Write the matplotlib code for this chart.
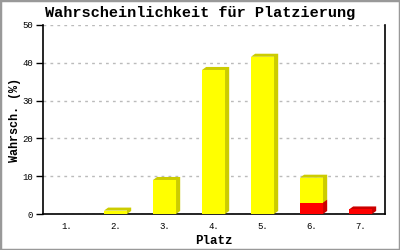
import matplotlib
matplotlib.use("Agg")
import matplotlib.pyplot as plt
from matplotlib.patches import Polygon, Rectangle

categories = ["1.", "2.", "3.", "4.", "5.", "6.", "7."]
red_values = [0, 0, 0, 0, 0, 3.0, 1.2]
yellow_values = [0, 0.9, 9.0, 38.1, 41.6, 6.6, 0]
y_ticks = [0, 10, 20, 30, 40, 50]

FONT = "Liberation Mono"
fig = plt.figure(figsize=(4, 2.5), dpi=100)
ax = fig.add_axes([43/400, 36/250, (385-43)/400, (214-25)/250])

width = 0.47
dx, dy = 0.085, 0.8

def bar3d(x, bottom, h, face, side):
    if h <= 0:
        return
    x0, x1 = x - width/2, x + width/2
    top = bottom + h
    ax.add_patch(Polygon([(x0, top), (x0+dx, top+dy), (x1+dx, top+dy),
                          (x1+dx, bottom+dy), (x1, bottom), (x1, top)],
                         closed=True, facecolor=side, edgecolor="none", zorder=3))
    ax.add_patch(Rectangle((x0, bottom), width, h, facecolor=face,
                           edgecolor="none", zorder=4))

for i in range(len(categories)):
    bar3d(i, 0, red_values[i], "#ff0000", "#cc0000")
    bar3d(i, red_values[i], yellow_values[i], "#ffff00", "#cccc00")

ax.set_xlim(-0.48, 6.5)
ax.set_ylim(0, 50)
ax.set_xticks(range(len(categories)))
ax.set_xticklabels(categories, fontfamily=FONT, fontsize=6.5)
ax.set_yticks(y_ticks)
ax.set_yticklabels([str(v) for v in y_ticks], fontfamily=FONT, fontsize=6.5)
ax.tick_params(axis="x", length=0, pad=6)
ax.tick_params(axis="y", length=5, width=1, pad=2)
ax.yaxis.grid(True, linestyle=(0, (2, 3)), color="#bbbbbb", linewidth=1)
ax.set_axisbelow(True)
ax.spines["top"].set_visible(False)
for s in ["left", "bottom", "right"]:
    ax.spines[s].set_linewidth(1.2)
    ax.spines[s].set_color("black")

ax.set_xlabel("Platz", fontfamily=FONT, fontweight="bold", fontsize=9, labelpad=3)
ax.set_ylabel("Wahrsch. (%)", fontfamily=FONT, fontweight="bold", fontsize=8.5, labelpad=1)
fig.text(0.5, 1 - 13/250, "Wahrscheinlichkeit für Platzierung", fontfamily=FONT,
         fontweight="bold", fontsize=11, ha="center", va="center")

fig.patches.append(Rectangle((0.0, 0.0), 1, 1, transform=fig.transFigure,
                             facecolor="none", edgecolor="#999999", linewidth=2.5))

fig.savefig("out.png", dpi=100)
